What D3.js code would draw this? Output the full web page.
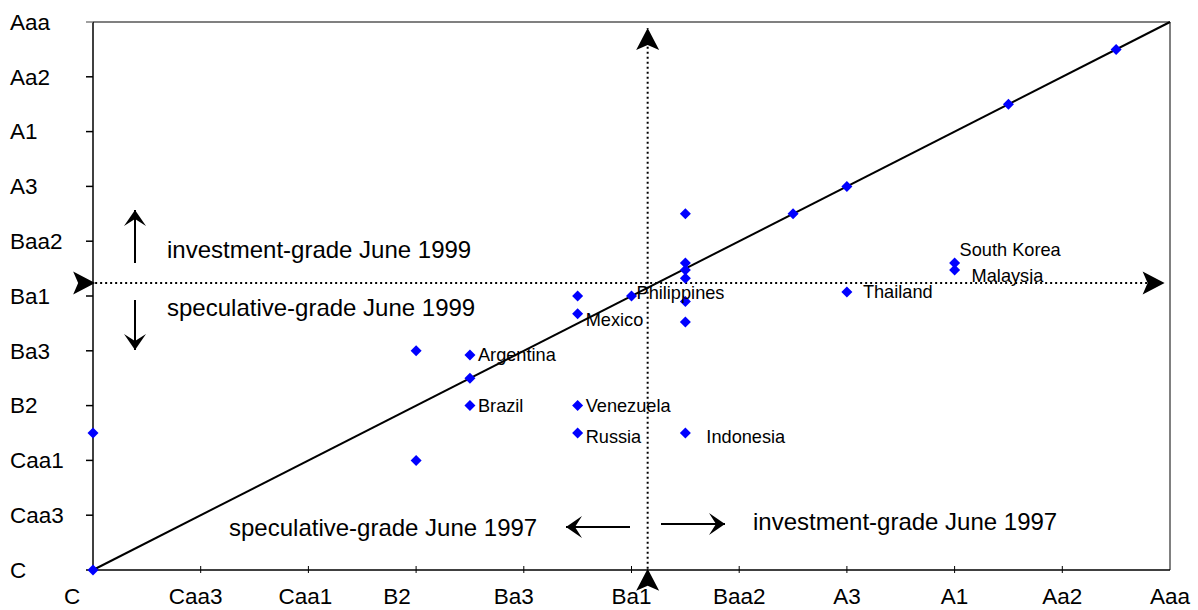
<!DOCTYPE html>
<html>
<head>
<meta charset="utf-8">
<script src="https://cdn.jsdelivr.net/npm/d3@7"></script>
<style>
  body { margin: 0; background: #fff; }
  text { font-family: Arial, "Liberation Sans", sans-serif; fill: #000; }
</style>
</head>
<body>
<svg id="chart" width="1198" height="610"></svg>
<script>
// Moody's rating scale, lowest to highest
var ratings = ['C', 'Ca', 'Caa3', 'Caa2', 'Caa1', 'B3', 'B2', 'B1', 'Ba3', 'Ba2', 'Ba1',
  'Baa3', 'Baa2', 'Baa1', 'A3', 'A2', 'A1', 'Aa3', 'Aa2', 'Aa1', 'Aaa'];
var tickLevels = [0, 2, 4, 6, 8, 10, 12, 14, 16, 18, 20];

// one entry per country: rating June 1997 (x) and June 1999 (y), as scale index
var countries = ['', '', '', '', 'Argentina', '', 'Brazil', '', 'Mexico', 'Venezuela', 'Russia',
  'Philippines', '', '', '', '', '', '', 'Indonesia', '', '', 'Thailand', 'South Korea', 'Malaysia', '', ''];
var rating1997 = [0, 0, 6, 6, 7, 7, 7, 9, 9, 9, 9, 10, 11, 11, 11, 11, 11, 11, 11, 13, 14, 14, 16, 16, 17, 19];
var rating1999 = [0, 5, 4, 8, 7.85, 7, 6, 10, 9.35, 6, 5, 10, 13, 11.2, 10.95, 10.65, 9.8, 9.05, 5, 13, 14, 10.15, 11.2, 10.95, 17, 19];

// investment/speculative boundary
var boundary1999 = 10.47;
var boundary1997 = 10.3;

var svg = d3.select('#chart');
var x = d3.scaleLinear().domain([0, 20]).range([93, 1170]);
var y = d3.scaleLinear().domain([0, 20]).range([570, 22]);

function head(id, len, wid, notch) {
  svg.append('defs').append('marker')
    .attr('id', id)
    .attr('markerUnits', 'userSpaceOnUse')
    .attr('viewBox', (-len - 1) + ' ' + (-wid / 2 - 1) + ' ' + (len + 2) + ' ' + (wid + 2))
    .attr('markerWidth', len + 2)
    .attr('markerHeight', wid + 2)
    .attr('refX', 0).attr('refY', 0)
    .attr('orient', 'auto')
    .append('path')
    .attr('d', 'M0,0 L' + (-len) + ',' + (-wid / 2) + ' L' + (-len + notch) + ',0 L' + (-len) + ',' + (wid / 2) + 'Z')
    .attr('fill', '#000');
}
head('big', 22, 23, 5);
head('small', 16, 22, 7);

// frame
svg.append('line').attr('x1', x(0)).attr('x2', x(20)).attr('y1', y(20)).attr('y2', y(20))
  .attr('stroke', '#808080').attr('stroke-width', 2);
svg.append('line').attr('x1', x(20)).attr('x2', x(20)).attr('y1', y(20)).attr('y2', y(0))
  .attr('stroke', '#808080').attr('stroke-width', 2);
svg.append('line').attr('x1', x(0)).attr('x2', x(0)).attr('y1', y(20)).attr('y2', y(0))
  .attr('stroke', '#000').attr('stroke-width', 1.5);
svg.append('line').attr('x1', x(0)).attr('x2', x(20)).attr('y1', y(0)).attr('y2', y(0))
  .attr('stroke', '#000').attr('stroke-width', 1.5);

// y ticks and labels
tickLevels.forEach(function(l) {
  svg.append('line').attr('x1', x(0) - 7).attr('x2', x(0)).attr('y1', y(l)).attr('y2', y(l))
    .attr('stroke', l === 20 ? '#808080' : '#000').attr('stroke-width', 1.5);
  svg.append('text').attr('x', 10).attr('y', y(l)).attr('dy', '0.35em')
    .attr('font-size', 22.5).text(ratings[l]);
});

// x ticks and labels (labels sit a little off their ticks in the original)
var xLabelShift = {0: -21, 2: -5, 4: -3, 6: -19, 8: -10};
tickLevels.forEach(function(l) {
  if (l > 0 && l < 20) {
    svg.append('line').attr('x1', x(l)).attr('x2', x(l)).attr('y1', y(0) - 4).attr('y2', y(0) + 3)
      .attr('stroke', '#000').attr('stroke-width', 1);
  }
  svg.append('text').attr('x', x(l) + (xLabelShift[l] || 0)).attr('y', 604)
    .attr('text-anchor', 'middle').attr('font-size', 22.5).text(ratings[l]);
});

// diagonal: unchanged rating
svg.append('line').attr('x1', x(0)).attr('y1', y(0)).attr('x2', x(20)).attr('y2', y(20))
  .attr('stroke', '#000').attr('stroke-width', 2);

// boundary lines
svg.append('line')
  .attr('x1', x(0.04)).attr('x2', x(19.9)).attr('y1', y(boundary1999)).attr('y2', y(boundary1999))
  .attr('stroke', '#000').attr('stroke-width', 2).attr('stroke-dasharray', '2,3')
  .attr('marker-start', 'url(#big)').attr('marker-end', 'url(#big)');
svg.append('line')
  .attr('x1', x(boundary1997)).attr('x2', x(boundary1997)).attr('y1', y(0.05)).attr('y2', y(19.78))
  .attr('stroke', '#000').attr('stroke-width', 2).attr('stroke-dasharray', '2,3')
  .attr('marker-start', 'url(#big)').attr('marker-end', 'url(#big)');

// direction arrows
function arrow(x1, y1, x2, y2) {
  svg.append('line').attr('x1', x1).attr('y1', y1).attr('x2', x2).attr('y2', y2)
    .attr('stroke', '#000').attr('stroke-width', 2).attr('marker-end', 'url(#small)');
}
arrow(135, 263, 135, 210);
arrow(135, 300, 135, 350);
arrow(630, 527, 566, 527);
arrow(661, 524, 725, 524);

svg.append('text').attr('x', 167).attr('y', 258).attr('font-size', 24).text('investment-grade June 1999');
svg.append('text').attr('x', 167).attr('y', 316).attr('font-size', 24).text('speculative-grade June 1999');
svg.append('text').attr('x', 229).attr('y', 536).attr('font-size', 24).text('speculative-grade June 1997');
svg.append('text').attr('x', 753).attr('y', 530).attr('font-size', 24).text('investment-grade June 1997');

// points
var pts = countries.map(function(c, i) {
  return {name: c, x: rating1997[i], y: rating1999[i]};
});
svg.selectAll('path.pt').data(pts).enter().append('path')
  .attr('class', 'pt')
  .attr('d', 'M0,-5.5L5.5,0L0,5.5L-5.5,0Z')
  .attr('transform', function(d) { return 'translate(' + x(d.x) + ',' + y(d.y) + ')'; })
  .attr('fill', '#0000ff');

var offsets = {
  'Argentina': [8, 0], 'Brazil': [8, 0], 'Mexico': [8, 6], 'Venezuela': [8, 0],
  'Russia': [8, 4], 'Philippines': [5, -3], 'Indonesia': [21, 4], 'Thailand': [16, 0],
  'South Korea': [5, -13], 'Malaysia': [17, 6]
};
svg.selectAll('text.lbl').data(pts.filter(function(d) { return d.name; })).enter().append('text')
  .attr('class', 'lbl')
  .attr('x', function(d) { return x(d.x) + offsets[d.name][0]; })
  .attr('y', function(d) { return y(d.y) + offsets[d.name][1]; })
  .attr('dy', '0.35em')
  .attr('font-size', 18.2)
  .text(function(d) { return d.name; });
</script>
</body>
</html>
